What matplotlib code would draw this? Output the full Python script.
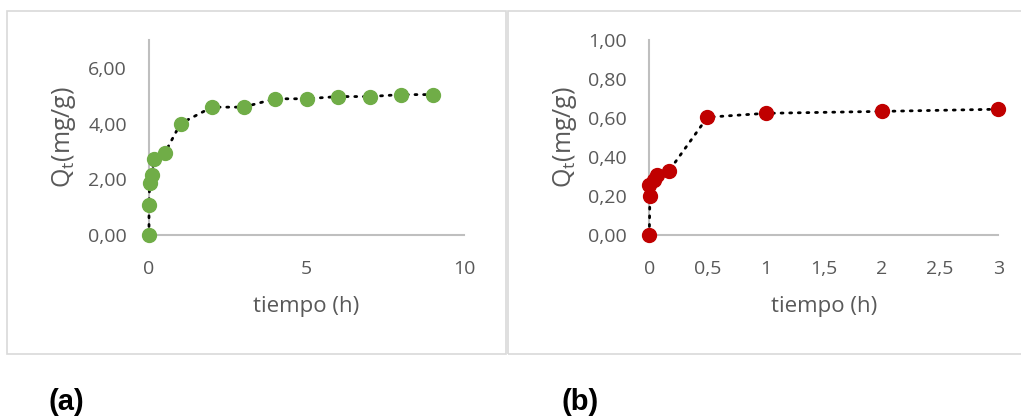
import matplotlib
matplotlib.use("Agg")
import matplotlib.pyplot as plt
from matplotlib.patches import Rectangle
from matplotlib.ticker import FuncFormatter

# kinetic data, panel (a)
t_a = [0, 0.0, 0.02, 0.08, 0.17, 0.5, 1, 2, 3, 4, 5, 6, 7, 8, 9]
q_a = [0.0, 1.06, 1.86, 2.14, 2.73, 2.94, 4.00, 4.59, 4.59, 4.89, 4.89, 4.97, 4.97, 5.04, 5.04]

# kinetic data, panel (b)
t_b = [0, 0.005, 0.0, 0.04, 0.07, 0.167, 0.5, 1, 2, 3]
q_b = [0.0, 0.20, 0.255, 0.28, 0.31, 0.327, 0.604, 0.624, 0.634, 0.645]

W, H = 1021, 419
fig = plt.figure(figsize=(W / 100, H / 100), dpi=100)

grey = "#595959"
axis_grey = "#bfbfbf"
frame_grey = "#d9d9d9"
font = ["Open Sans", "DejaVu Sans"]

# outer chart frames
for x0, x1 in [(7, 506), (508, 1025)]:
    fig.patches.append(Rectangle((x0 / W, 1 - 354 / H), (x1 - x0) / W, (354 - 11) / H,
                                 transform=fig.transFigure, fill=False,
                                 edgecolor=frame_grey, lw=1.2))


def comma(fmt):
    return FuncFormatter(lambda v, p: (fmt % v).replace(".", ","))


def style(ax, xmax, ymax, xticks, yticks, xfmt):
    ax.set_xlim(0, xmax)
    ax.set_ylim(0, ymax)
    ax.set_xticks(xticks)
    ax.set_yticks(yticks)
    ax.xaxis.set_major_formatter(xfmt)
    ax.yaxis.set_major_formatter(comma("%.2f"))
    for s in ["top", "right"]:
        ax.spines[s].set_visible(False)
    for s in ["left", "bottom"]:
        ax.spines[s].set_color(axis_grey)
        ax.spines[s].set_linewidth(1.5)
    ax.tick_params(length=0, labelsize=14, labelcolor=grey)
    ax.tick_params(axis="x", pad=18)
    ax.tick_params(axis="y", pad=16)
    for lab in ax.get_xticklabels() + ax.get_yticklabels():
        lab.set_family(font)
    ax.set_xlabel("tiempo (h)", fontsize=16, color=grey, family=font, labelpad=13)
    ax.set_ylabel(r"$\mathregular{Q_t}$(mg/g)", fontsize=18, color=grey, family=font, labelpad=7)


ax1 = fig.add_axes([149 / W, 1 - 235 / H, 315 / W, 195 / H])
ax1.plot(t_a, q_a, color="black", lw=2, ls=(0, (0.7, 2.4)), dash_capstyle="round",
         marker="o", ms=10, mfc="#70ad47", mec="#70ad47", clip_on=False, zorder=3)
style(ax1, 10, 7, [0, 5, 10], [0, 2, 4, 6], comma("%g"))

ax2 = fig.add_axes([649.3 / W, 1 - 235 / H, 349 / W, 195 / H])
ax2.plot(t_b, q_b, color="black", lw=2, ls=(0, (0.7, 2.4)), dash_capstyle="round",
         marker="o", ms=10, mfc="#c00000", mec="#c00000", clip_on=False, zorder=3)
style(ax2, 3, 1.0, [0, 0.5, 1, 1.5, 2, 2.5, 3], [0, 0.2, 0.4, 0.6, 0.8, 1.0], comma("%g"))

# panel letters
for x, s in [(66, "(a)"), (580, "(b)")]:
    fig.text(x / W, 1 - 402 / H, s, fontsize=21, fontweight="bold",
             family=["Liberation Sans Narrow", "Liberation Sans"],
             ha="center", va="center", color="black")

fig.savefig("out.png", dpi=100)
